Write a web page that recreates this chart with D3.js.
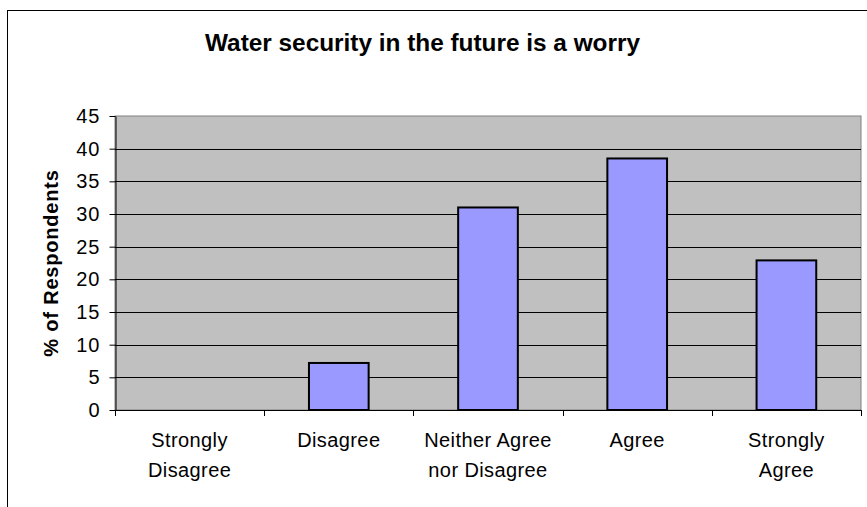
<!DOCTYPE html>
<html>
<head>
<meta charset="utf-8">
<script src="https://cdn.jsdelivr.net/npm/d3@7"></script>
<style>
  body { margin: 0; background: #fff; }
  text { font-family: "Liberation Sans", Arial, sans-serif; }
</style>
</head>
<body>
<div id="chart"></div>
<script>
const categories = [["Strongly", "Disagree"], ["Disagree"], ["Neither Agree", "nor Disagree"], ["Agree"], ["Strongly", "Agree"]];
const values = [0, 7.2, 31, 38.5, 22.9];
const yTicks = [0, 5, 10, 15, 20, 25, 30, 35, 40, 45];
const title = "Water security in the future is a worry";
const yLabel = "% of Respondents";

const width = 867, height = 507;
const plot = { left: 115, right: 861, top: 116, bottom: 410 };

const svg = d3.select("#chart").append("svg")
    .attr("width", width)
    .attr("height", height);

// outer chart border (cropped by the picture edge)
svg.append("rect")
    .attr("x", 7.5).attr("y", 10.5)
    .attr("width", 900).attr("height", 600)
    .attr("fill", "#fff")
    .attr("stroke", "#000")
    .attr("stroke-width", 1);

svg.append("text")
    .attr("x", 422.5).attr("y", 51)
    .attr("text-anchor", "middle")
    .attr("font-size", 23)
    .attr("font-weight", "bold")
    .attr("textLength", 435)
    .attr("lengthAdjust", "spacingAndGlyphs")
    .text(title);

const idx = d3.range(categories.length);
const x = d3.scaleBand()
    .domain(idx)
    .range([plot.left, plot.right])
    .paddingInner(0.6)
    .paddingOuter(0.3);

const y = d3.scaleLinear()
    .domain([0, 45])
    .range([plot.bottom, plot.top]);

// plot area
svg.append("rect")
    .attr("x", plot.left).attr("y", plot.top)
    .attr("width", plot.right - plot.left)
    .attr("height", plot.bottom - plot.top)
    .attr("fill", "#c0c0c0")
    .attr("stroke", "#808080")
    .attr("stroke-width", 1);

svg.append("g")
    .selectAll("line")
    .data(yTicks.filter(d => d > 0 && d < 45))
    .enter().append("line")
    .attr("x1", plot.left).attr("x2", plot.right)
    .attr("y1", d => Math.round(y(d)) + 0.5)
    .attr("y2", d => Math.round(y(d)) + 0.5)
    .attr("stroke", "#000")
    .attr("stroke-width", 1);

// bars
svg.selectAll(".bar")
    .data(values)
    .enter().append("rect")
    .attr("class", "bar")
    .attr("x", (d, i) => x(i))
    .attr("y", d => y(d))
    .attr("width", x.bandwidth())
    .attr("height", d => plot.bottom - y(d))
    .attr("fill", d => d > 0 ? "#9999ff" : "none")
    .attr("stroke", d => d > 0 ? "#000" : "none")
    .attr("stroke-width", 2);

// y axis
const yAxis = d3.axisLeft(y)
    .tickValues(yTicks)
    .tickSize(6)
    .tickPadding(9)
    .tickSizeOuter(0);

const gy = svg.append("g")
    .attr("transform", `translate(${plot.left + 0.5},0)`)
    .call(yAxis);
gy.select(".domain").attr("stroke", "#000");
gy.selectAll(".tick text")
    .attr("font-size", 20)
    .attr("letter-spacing", 1)
    .attr("fill", "#000")
    .style("font-family", "'Liberation Sans', Arial, sans-serif");

// x axis with ticks at category boundaries
const bounds = d3.range(categories.length + 1).map(i => plot.left + (plot.right - plot.left) * i / categories.length);

svg.append("line")
    .attr("x1", plot.left).attr("x2", plot.right)
    .attr("y1", plot.bottom + 0.5).attr("y2", plot.bottom + 0.5)
    .attr("stroke", "#000");

svg.append("g")
    .selectAll("line")
    .data(bounds)
    .enter().append("line")
    .attr("x1", d => Math.round(d) + 0.5).attr("x2", d => Math.round(d) + 0.5)
    .attr("y1", plot.bottom).attr("y2", plot.bottom + 6)
    .attr("stroke", "#000");

const labels = svg.append("g")
    .selectAll("text")
    .data(categories)
    .enter().append("text")
    .attr("y", 447)
    .attr("text-anchor", "middle")
    .attr("font-size", 20)
    .attr("letter-spacing", 0.4);

labels.each(function(d, i) {
    const t = d3.select(this);
    d.forEach((line, k) => {
        t.append("tspan")
            .attr("x", x(i) + x.bandwidth() / 2)
            .attr("dy", k === 0 ? 0 : 30)
            .text(line);
    });
});

svg.append("text")
    .attr("transform", `translate(58,${(plot.top + plot.bottom) / 2}) rotate(-90)`)
    .attr("text-anchor", "middle")
    .attr("font-size", 20)
    .attr("font-weight", "bold")
    .attr("letter-spacing", 0.8)
    .text(yLabel);
</script>
</body>
</html>
